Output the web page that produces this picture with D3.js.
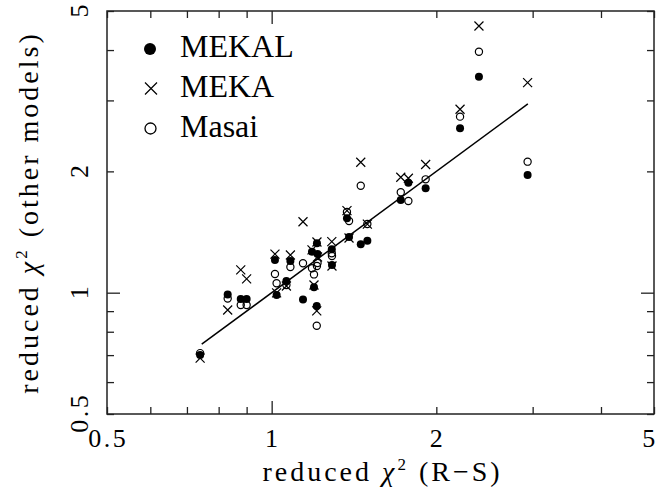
<!DOCTYPE html>
<html>
<head>
<meta charset="utf-8">
<script src="https://cdn.jsdelivr.net/npm/d3@7"></script>
<style>
  html, body { margin: 0; padding: 0; background: #fff; }
  svg { display: block; }
  .lbl { font-family: "Liberation Serif", serif; font-size: 26px; fill: #000; letter-spacing: 2.5px; }
  .ttl { font-family: "Liberation Serif", serif; font-size: 28px; fill: #000; letter-spacing: 3px; }
  .leg { font-family: "Liberation Serif", serif; font-size: 32px; fill: #000; }
</style>
</head>
<body>
<script>
// ---- data ----
const rsChi2 = [0.740, 0.831, 0.878, 0.900, 1.014, 1.021, 1.064, 1.082, 1.141, 1.185, 1.195, 1.209, 1.210, 1.213, 1.288, 1.289, 1.373, 1.385, 1.455, 1.496, 1.722, 1.778, 1.912, 2.210, 2.393, 2.937];
const mekal  = [0.700, 0.990, 0.965, 0.965, 1.206, 0.987, 1.069, 1.199, 0.962, 1.264, 1.031, 0.927, 1.326, 1.247, 1.282, 1.171, 1.530, 1.375, 1.318, 1.346, 1.698, 1.875, 1.816, 2.559, 3.435, 1.959];
const meka   = [0.688, 0.906, 1.139, 1.082, 1.247, 0.999, 1.039, 1.240, 1.500, 1.277, 1.045, 0.901, 1.336, 1.226, 1.339, 1.165, 1.598, 1.367, 2.107, 1.480, 1.934, 1.923, 2.080, 2.852, 4.590, 3.320];
const masai  = [0.708, 0.967, 0.932, 0.932, 1.113, 1.055, 1.045, 1.158, 1.183, 1.150, 1.110, 0.828, 1.165, 1.185, 1.253, 1.233, 1.586, 1.506, 1.843, 1.480, 1.775, 1.689, 1.911, 2.734, 3.962, 2.114];
const lineEnds = [0.745, 2.94];           // y = x reference line
const minorTicks = [0.5, 0.6, 0.7, 0.8, 0.9, 2, 3, 4, 5];
const majorTicks = [1];
const tickLabels = [0.5, 1, 2, 5];
const legendNames = ["MEKAL", "MEKA", "Masai"];

// ---- layout ----
const W = 661, H = 495;
const L = 107, R = 654, T = 11, B = 414;

const svg = d3.select("body").append("svg").attr("width", W).attr("height", H);
const x = d3.scaleLog().domain([0.5, 5]).range([L, R]);
const y = d3.scaleLog().domain([0.5, 5]).range([B, T]);

// ticks (inward, all four sides)
function addAxis(axisFn, scale, transform, vals, size) {
  svg.append("g").attr("transform", transform)
    .call(axisFn(scale).tickValues(vals).tickSize(size).tickFormat(""))
    .call(g => g.select(".domain").remove())
    .call(g => g.selectAll("line").attr("stroke", "#222").attr("stroke-width", 1.3));
}
addAxis(d3.axisBottom, x, `translate(0,${B})`, minorTicks, -7);
addAxis(d3.axisBottom, x, `translate(0,${B})`, majorTicks, -13);
addAxis(d3.axisTop, x, `translate(0,${T})`, minorTicks, -7);
addAxis(d3.axisTop, x, `translate(0,${T})`, majorTicks, -13);
addAxis(d3.axisLeft, y, `translate(${L},0)`, minorTicks, -7);
addAxis(d3.axisLeft, y, `translate(${L},0)`, majorTicks, -13);
addAxis(d3.axisRight, y, `translate(${R},0)`, minorTicks, -7);
addAxis(d3.axisRight, y, `translate(${R},0)`, majorTicks, -13);

// frame
svg.append("rect").attr("x", L).attr("y", T).attr("width", R - L).attr("height", B - T)
  .attr("fill", "none").attr("stroke", "#222").attr("stroke-width", 1.5);

// tick labels
svg.selectAll(".xl").data(tickLabels).enter().append("text")
  .attr("class", "lbl").attr("x", d => Math.min(x(d) + 1.2, W - 11)).attr("y", 447)
  .attr("text-anchor", "middle").text(d => d);
svg.selectAll(".yl").data(tickLabels).enter().append("text")
  .attr("class", "lbl").attr("text-anchor", "middle")
  .attr("transform", d => `translate(88,${y(d) - 1.2}) rotate(-90)`).text(d => d);

// axis titles
const xt = svg.append("text").attr("class", "ttl").attr("x", (L + R) / 2 + 2).attr("y", 481)
  .attr("text-anchor", "middle");
xt.append("tspan").text("reduced ");
xt.append("tspan").attr("font-style", "italic").text("χ");
xt.append("tspan").attr("dy", -11).attr("font-size", 17).text("2");
xt.append("tspan").attr("dy", 11).text(" (R−S)");

const yt = svg.append("text").attr("class", "ttl").attr("text-anchor", "middle")
  .attr("transform", `translate(38,${(T + B) / 2}) rotate(-90)`);
yt.append("tspan").text("reduced ");
yt.append("tspan").attr("font-style", "italic").text("χ");
yt.append("tspan").attr("dy", -11).attr("font-size", 17).text("2");
yt.append("tspan").attr("dy", 11).text(" (other models)");

// y = x line
svg.append("line")
  .attr("x1", x(lineEnds[0])).attr("y1", y(lineEnds[0]))
  .attr("x2", x(lineEnds[1])).attr("y2", y(lineEnds[1]))
  .attr("stroke", "#000").attr("stroke-width", 1.5);

// markers
const cross = (g, cx, cy, s) => g.append("path")
  .attr("d", `M${cx - s},${cy - s}L${cx + s},${cy + s}M${cx - s},${cy + s}L${cx + s},${cy - s}`)
  .attr("stroke", "#000").attr("stroke-width", 1.2).attr("fill", "none");

const pts = svg.append("g");
pts.selectAll(".mekal").data(rsChi2).enter().append("circle")
  .attr("cx", d => x(d)).attr("cy", (d, i) => y(mekal[i])).attr("r", 4).attr("fill", "#000");
rsChi2.forEach((d, i) => cross(pts, x(d), y(meka[i]), 4.5));
pts.selectAll(".masai").data(rsChi2).enter().append("circle")
  .attr("cx", d => x(d)).attr("cy", (d, i) => y(masai[i])).attr("r", 3.6)
  .attr("fill", "none").attr("stroke", "#000").attr("stroke-width", 1.2);

// legend
const legY = [49, 88.5, 128.5];
const lg = svg.append("g");
lg.append("circle").attr("cx", 150).attr("cy", legY[0]).attr("r", 6).attr("fill", "#000");
cross(lg, 151, legY[1], 6);
lg.append("circle").attr("cx", 150.5).attr("cy", legY[2]).attr("r", 5.5)
  .attr("fill", "none").attr("stroke", "#000").attr("stroke-width", 1.3);
lg.selectAll(".lt").data(legendNames).enter().append("text")
  .attr("class", "leg").attr("x", 180).attr("y", (d, i) => legY[i] + 8).text(d => d);
</script>
</body>
</html>
